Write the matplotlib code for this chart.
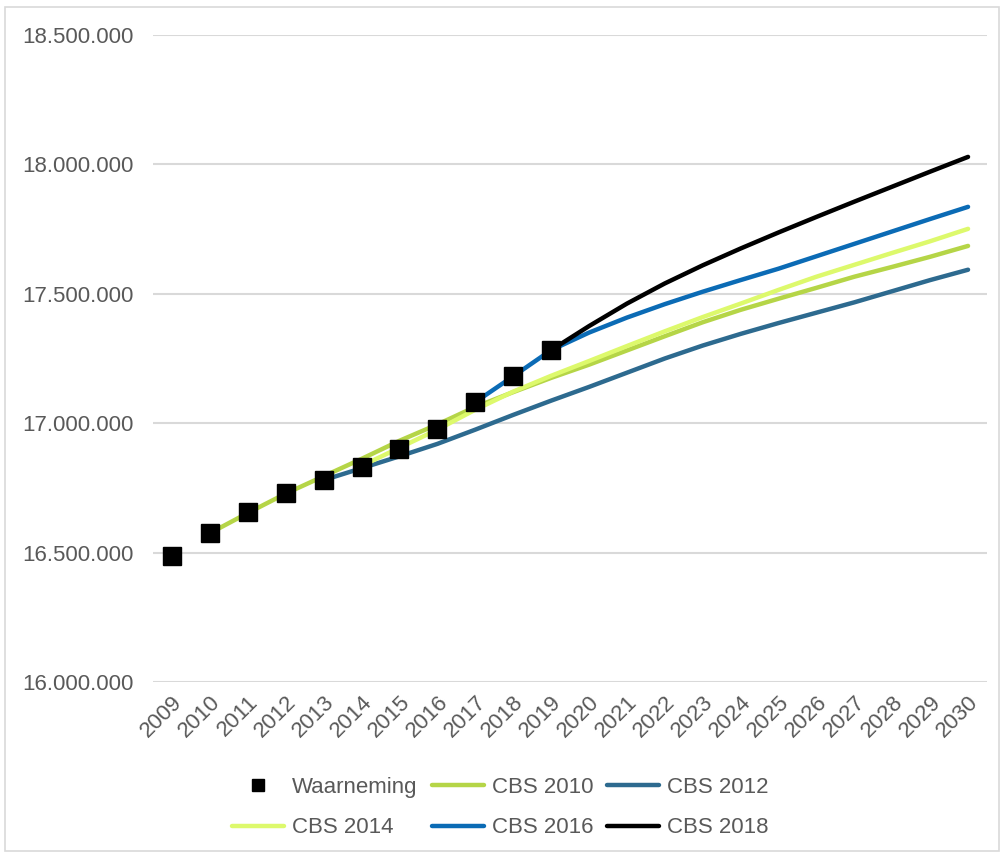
import matplotlib
matplotlib.use("Agg")
import matplotlib.pyplot as plt
from matplotlib.lines import Line2D
from matplotlib.patches import Rectangle
from matplotlib.ticker import FuncFormatter

years = list(range(2009, 2031))

# observed population (Waarneming)
obs_years = list(range(2009, 2020))
obs_values = [16485787, 16574989, 16655799, 16730348, 16779575, 16829289,
              16900726, 16979120, 17081507, 17181084, 17282163]

# CBS forecasts, each starting from its own base year
cbs2010_years = list(range(2010, 2031))
cbs2010 = [16575000, 16653000, 16728000, 16795000, 16862000, 16932000, 16995000,
           17063000, 17120000, 17175000, 17226000, 17281000, 17336000, 17390000,
           17438000, 17481000, 17523000, 17566000, 17604000, 17643000, 17685000]

cbs2012_years = list(range(2013, 2031))
cbs2012 = [16780000, 16826000, 16872000, 16920000, 16975000, 17032000, 17087000,
           17140000, 17195000, 17250000, 17300000, 17345000, 17387000, 17427000,
           17467000, 17510000, 17553000, 17593000]

cbs2014_years = list(range(2014, 2031))
cbs2014 = [16835000, 16905000, 16975000, 17052000, 17122000, 17183000, 17240000,
           17298000, 17355000, 17410000, 17462000, 17515000, 17566000, 17612000,
           17658000, 17703000, 17751000]

cbs2016_years = list(range(2017, 2031))
cbs2016 = [17081507, 17181084, 17282163, 17350000, 17408000, 17460000, 17508000,
           17553000, 17597000, 17645000, 17693000, 17741000, 17789000, 17836000]

cbs2018_years = list(range(2019, 2031))
cbs2018 = [17282163, 17375000, 17462000, 17540000, 17610000, 17675000, 17737000,
           17797000, 17856000, 17914000, 17972000, 18029000]

series = [
    ("CBS 2010", cbs2010_years, cbs2010, "#b5d547"),
    ("CBS 2012", cbs2012_years, cbs2012, "#2d6a8f"),
    ("CBS 2014", cbs2014_years, cbs2014, "#ddf96c"),
    ("CBS 2016", cbs2016_years, cbs2016, "#0b6bb5"),
    ("CBS 2018", cbs2018_years, cbs2018, "#000000"),
]

text_gray = "#595959"
grid_gray = "#d9d9d9"
plt.rcParams["font.family"] = ["Liberation Sans", "DejaVu Sans"]

fig = plt.figure(figsize=(10.01, 8.52), dpi=100)
ax = fig.add_axes([153 / 1001, 170 / 852, 834 / 1001, 647 / 852])

handles = {}
for name, xs, ys, color in series:
    ax.plot(xs, ys, color=color, lw=3.2, solid_capstyle="round",
            solid_joinstyle="round", zorder=2)
    handles[name] = Line2D([], [], color=color, lw=3.2, solid_capstyle="round")

ax.plot(obs_years, obs_values, ls="none", marker="s", ms=12.5, color="black", zorder=5)
handles["Waarneming"] = Line2D([], [], ls="none", marker="s", ms=9, color="black")

ax.set_xlim(2008.5, 2030.5)
ax.set_ylim(16000000, 18500000)
ax.set_yticks([16000000, 16500000, 17000000, 17500000, 18000000, 18500000])
ax.yaxis.set_major_formatter(FuncFormatter(lambda v, p: f"{int(v):,}".replace(",", ".")))
ax.set_xticks(years)
ax.set_xticklabels([str(y) for y in years], rotation=45, ha="right", va="top",
                   rotation_mode="anchor")

ax.grid(axis="y", color=grid_gray, lw=1.5, zorder=0)
ax.set_axisbelow(True)
for s in ax.spines.values():
    s.set_visible(False)
ax.tick_params(axis="both", length=0, labelsize=16, colors=text_gray)
ax.tick_params(axis="y", pad=14)
ax.tick_params(axis="x", pad=7)

# Excel-style row-major legend: reorder for matplotlib's column filling
order = ["Waarneming", "CBS 2014", "CBS 2010", "CBS 2016", "CBS 2012", "CBS 2018"]
leg = fig.legend([handles[k] for k in order], order, loc="center",
                 bbox_to_anchor=(0.5, 0.052), ncol=3, frameon=False,
                 fontsize=16, handlelength=2.35, handletextpad=0.35,
                 columnspacing=0.63, labelspacing=0.87)
for t in leg.get_texts():
    t.set_color(text_gray)

fig.patches.append(Rectangle((5 / 1001, 1 / 852), 994 / 1001, 844 / 852,
                             transform=fig.transFigure, fill=False,
                             edgecolor=grid_gray, lw=1.2))

fig.savefig("out.png", dpi=100, facecolor="white")
